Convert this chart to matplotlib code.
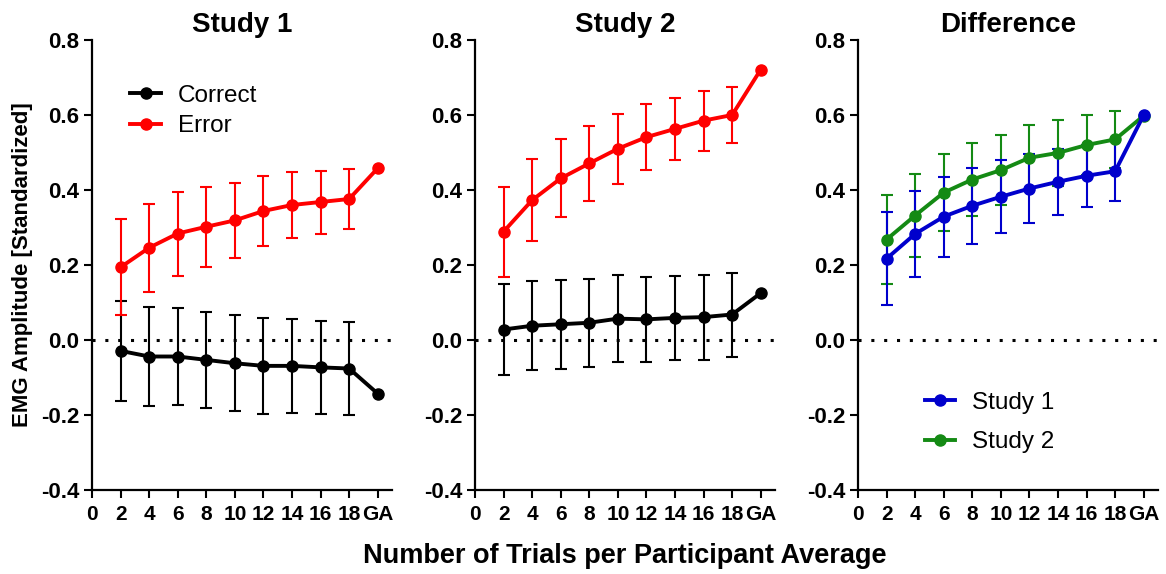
import numpy as np
import matplotlib
matplotlib.use("Agg")
import matplotlib.pyplot as plt

plt.rcParams['font.family'] = ['Liberation Sans', 'DejaVu Sans']

# x positions: 2..18 trials, then grand average (GA) placed at 20
trials = [2, 4, 6, 8, 10, 12, 14, 16, 18, 20]
tick_pos = [0, 2, 4, 6, 8, 10, 12, 14, 16, 18, 20]
tick_labels = ["0", "2", "4", "6", "8", "10", "12", "14", "16", "18", "GA"]

# Study 1
s1_correct = [-0.029, -0.044, -0.044, -0.053, -0.062, -0.069, -0.069, -0.073, -0.076, -0.143]
s1_correct_sd = [0.133, 0.131, 0.130, 0.128, 0.128, 0.127, 0.125, 0.124, 0.123, 0]
s1_error = [0.194, 0.246, 0.284, 0.302, 0.319, 0.344, 0.360, 0.368, 0.376, 0.458]
s1_error_sd = [0.128, 0.118, 0.112, 0.107, 0.100, 0.094, 0.089, 0.084, 0.079, 0]

# Study 2
s2_correct = [0.028, 0.038, 0.042, 0.046, 0.057, 0.055, 0.059, 0.061, 0.068, 0.125]
s2_correct_sd = [0.121, 0.119, 0.118, 0.118, 0.116, 0.114, 0.113, 0.113, 0.112, 0]
s2_error = [0.289, 0.373, 0.431, 0.471, 0.510, 0.541, 0.563, 0.585, 0.600, 0.721]
s2_error_sd = [0.120, 0.110, 0.104, 0.099, 0.094, 0.088, 0.083, 0.080, 0.075, 0]

# Difference (Error - Correct)
d1 = [0.217, 0.283, 0.329, 0.358, 0.382, 0.404, 0.422, 0.438, 0.450, 0.600]
d1_sd = [0.124, 0.115, 0.107, 0.101, 0.097, 0.093, 0.088, 0.083, 0.080, 0]
d2 = [0.268, 0.332, 0.393, 0.428, 0.453, 0.486, 0.499, 0.520, 0.535, 0.598]
d2_sd = [0.119, 0.110, 0.102, 0.097, 0.094, 0.088, 0.088, 0.080, 0.077, 0]

RED = "#FF0000"
BLUE = "#0000CC"
GREEN = "#148A14"


def draw_series(ax, y, sd, color, label):
    x = np.array(trials)
    y = np.array(y)
    sd = np.array(sd)
    # error bars only for the 2..18 points
    ax.errorbar(x[:-1], y[:-1], yerr=sd[:-1], fmt="none", ecolor=color,
                elinewidth=1.5, capsize=4.5, capthick=1.5, zorder=2)
    ax.plot(x, y, "-o", color=color, lw=2.8, ms=8, label=label, zorder=3)


def style_axis(ax, title):
    ax.set_xlim(0, 21)
    ax.set_ylim(-0.4, 0.8)
    ax.axhline(0, color="black", ls=(0, (1, 3.2)), lw=2.2, zorder=1)
    ax.set_xticks(tick_pos)
    ax.set_xticklabels(tick_labels)
    ax.set_yticks([-0.4, -0.2, 0.0, 0.2, 0.4, 0.6, 0.8])
    ax.set_yticklabels(["-0.4", "-0.2", "0.0", "0.2", "0.4", "0.6", "0.8"])
    for lab in ax.get_yticklabels():
        lab.set_fontweight("bold")
        lab.set_fontsize(16)
    for lab in ax.get_xticklabels():
        lab.set_fontweight("bold")
        lab.set_fontsize(15)
    ax.tick_params(axis="both", direction="out", length=6, width=1.5, pad=3)
    ax.tick_params(axis="x", pad=5)
    ax.spines["top"].set_visible(False)
    ax.spines["right"].set_visible(False)
    ax.spines["left"].set_linewidth(1.6)
    ax.spines["bottom"].set_linewidth(1.6)
    ax.set_title(title, fontsize=20, fontweight="bold", pad=6)


fig = plt.figure(figsize=(11.66, 5.74), dpi=100)
w = 300 / 1166
h = 450 / 574
bottom = 1 - 490 / 574
ax1 = fig.add_axes([92 / 1166, bottom, w, h])
ax2 = fig.add_axes([475 / 1166, bottom, w, h])
ax3 = fig.add_axes([858 / 1166, bottom, w, h])

draw_series(ax1, s1_correct, s1_correct_sd, "black", "Correct")
draw_series(ax1, s1_error, s1_error_sd, RED, "Error")
style_axis(ax1, "Study 1")
ax1.legend(loc="center left", bbox_to_anchor=(0.055, 0.842), frameon=False,
           fontsize=17.5, handlelength=1.25, handletextpad=0.7, labelspacing=0.36,
           borderpad=0.4)
ax1.set_ylabel("EMG Amplitude [Standardized]", fontsize=16, fontweight="bold", labelpad=6)

draw_series(ax2, s2_correct, s2_correct_sd, "black", "Correct")
draw_series(ax2, s2_error, s2_error_sd, RED, "Error")
style_axis(ax2, "Study 2")

draw_series(ax3, d2, d2_sd, GREEN, "Study 2")
draw_series(ax3, d1, d1_sd, BLUE, "Study 1")
style_axis(ax3, "Difference")
handles, labels = ax3.get_legend_handles_labels()
ax3.legend(handles[::-1], labels[::-1], loc="center left", bbox_to_anchor=(0.15, 0.15),
           frameon=False, fontsize=17.5, handlelength=1.25, handletextpad=0.7,
           labelspacing=0.7, borderpad=0.4)

fig.text(625 / 1166, 1 - 556 / 574, "Number of Trials per Participant Average",
         ha="center", va="center", fontsize=19.5, fontweight="bold")

fig.savefig("out.png", dpi=100)
